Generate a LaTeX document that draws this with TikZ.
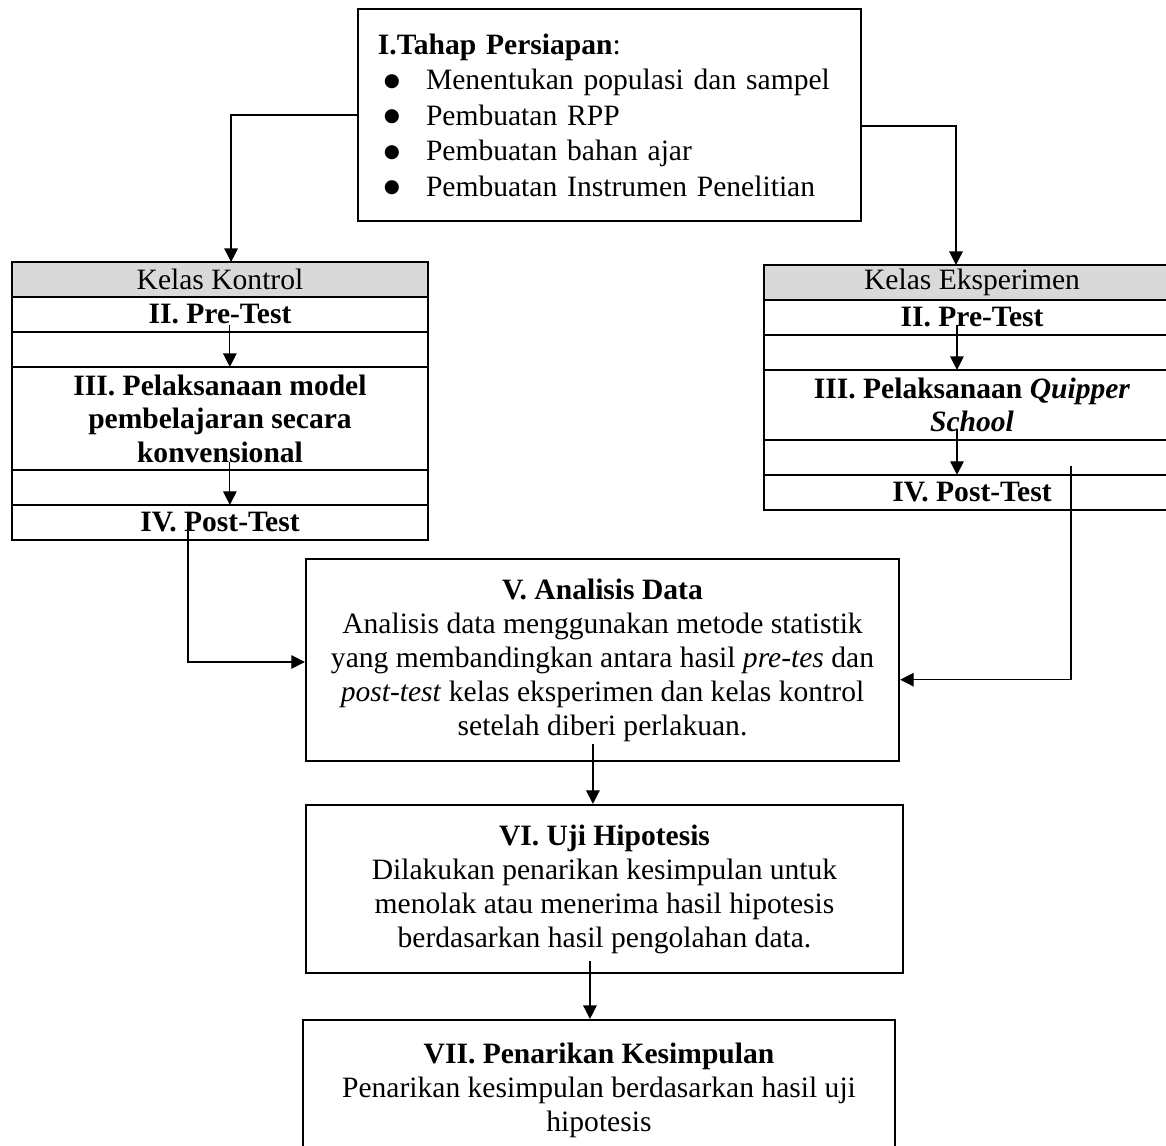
\documentclass[tikz,border=0pt]{standalone}
\usepackage{fontspec}
\setmainfont{Liberation Serif}
\newfontfamily\symfont{DejaVu Sans}
\usetikzlibrary{arrows.meta, positioning}
\definecolor{HeadGray}{HTML}{D9D9D9}
\newcommand{\bigbullet}{\hspace*{2.4pt}\makebox[17.1pt][l]{\raisebox{1.3pt}{\symfont\fontsize{7.5}{7.5}\selectfont ●}}}
\tikzset{
    % Box styles
    prepbox/.style={
        rectangle,
        draw,
        line width=0.9pt,
        minimum width=204.2pt,
        minimum height=86.1pt,
        text width=188pt,
        inner xsep=8pt,
        align=left,
        font=\fontsize{12}{14.4}\selectfont
    },
    stagebox/.style={
        rectangle,
        draw,
        line width=0.9pt,
        inner sep=0pt,
        align=center,
        font=\fontsize{12}{13.8}\selectfont
    },
    rowbox/.style={
        rectangle,
        draw,
        line width=0.8pt,
        minimum width=168.9pt,
        minimum height=14.2pt,
        inner sep=0pt,
        outer sep=0pt,
        align=center,
        font=\fontsize{12}{13.6}\selectfont\bfseries
    },
    headbox/.style={
        rowbox,
        fill=HeadGray,
        font=\fontsize{12}{13.6}\selectfont
    },
    % Arrow styles
    flowarrow/.style={
        -{Triangle[length=5.5pt,width=5.5pt]},
        line width=0.5pt
    }
}
\begin{document}
\begin{tikzpicture}[x=0.406pt, y=-0.406pt]
    \useasboundingbox (0,0) rectangle (1166,1146);

    % Tahap persiapan
    \node[prepbox] (prep) at (609.5,115) {\textbf{I.Tahap Persiapan}:\\
        \bigbullet Menentukan populasi dan sampel\\
        \bigbullet Pembuatan RPP\\
        \bigbullet Pembuatan bahan ajar\\
        \bigbullet Pembuatan Instrumen Penelitian};

    % Kelas kontrol
    \node[headbox] (kk) at (220,279.5) {Kelas Kontrol};
    \node[rowbox, below=0pt of kk] (kpre) {II. Pre-Test};
    \node[rowbox, below=0pt of kpre] (kgap1) {};
    \node[rowbox, below=0pt of kgap1, minimum height=41.8pt] (kpel) {III. Pelaksanaan model\\pembelajaran secara\\konvensional};
    \node[rowbox, below=0pt of kpel] (kgap2) {};
    \node[rowbox, below=0pt of kgap2] (kpost) {IV. Post-Test};

    % Kelas eksperimen
    \node[headbox] (ek) at (972,282.5) {Kelas Eksperimen};
    \node[rowbox, below=0pt of ek] (epre) {II. Pre-Test};
    \node[rowbox, below=0pt of epre] (egap1) {};
    \node[rowbox, below=0pt of egap1, minimum height=28.4pt] (epel) {III. Pelaksanaan \textit{Quipper}\\\textit{School}};
    \node[rowbox, below=0pt of epel] (egap2) {};
    \node[rowbox, below=0pt of egap2] (epost) {IV. Post-Test};

    % Analisis, uji, kesimpulan
    \node[stagebox, minimum width=240.8pt, minimum height=82pt] (ana) at (602.5,660) {\textbf{V. Analisis Data}\\
        Analisis data menggunakan metode statistik\\
        yang membandingkan antara hasil \textit{pre-tes} dan\\
        \textit{post-test} kelas eksperimen dan kelas kontrol\\
        setelah diberi perlakuan.};
    \node[stagebox, minimum width=242.4pt, minimum height=68.2pt] (uji) at (604.5,889) {\textbf{VI. Uji Hipotesis}\\
        Dilakukan penarikan kesimpulan untuk\\
        menolak atau menerima hasil hipotesis\\
        berdasarkan hasil pengolahan data.};
    \node[stagebox, minimum width=240.4pt, minimum height=56.8pt] (simp) at (599,1090) {\textbf{VII. Penarikan Kesimpulan}\\
        Penarikan kesimpulan berdasarkan hasil uji\\
        hipotesis};

    % Persiapan ke kelas
    \draw[flowarrow] (prep.west) -| ([xshift=4.5pt]kk.north);
    \draw[flowarrow] ([yshift=-4.5pt]prep.east) -| ([xshift=-6.5pt]ek.north);

    % Di dalam kelas
    \draw[flowarrow] ([xshift=4pt,yshift=2.8pt]kpre.south) -- ([xshift=4pt]kpel.north);
    \draw[flowarrow] ([xshift=4pt,yshift=3.2pt]kpel.south) -- ([xshift=4pt]kpost.north);
    \draw[flowarrow] ([xshift=-6.1pt,yshift=4pt]epre.south) -- ([xshift=-6.1pt]epel.north);
    \draw[flowarrow] ([xshift=-6.1pt,yshift=4.5pt]epel.south) -- ([xshift=-6.1pt]epost.north);

    % Post-test ke analisis
    \draw[flowarrow] ([xshift=-13pt,yshift=4pt]kpost.south) |- ([yshift=-0.8pt]ana.west);
    \draw[flowarrow] ([xshift=40.2pt,yshift=3.7pt]epost.north) |- ([yshift=-8pt]ana.east);

    % Analisis ke uji ke kesimpulan
    \draw[flowarrow] ([xshift=-3.9pt,yshift=7.3pt]ana.south) -- ([xshift=-3.9pt]ana.south |- uji.north);
    \draw[flowarrow] ([xshift=-5.9pt,yshift=5.3pt]uji.south) -- ([xshift=-5.9pt]uji.south |- simp.north);
\end{tikzpicture}
\end{document}
